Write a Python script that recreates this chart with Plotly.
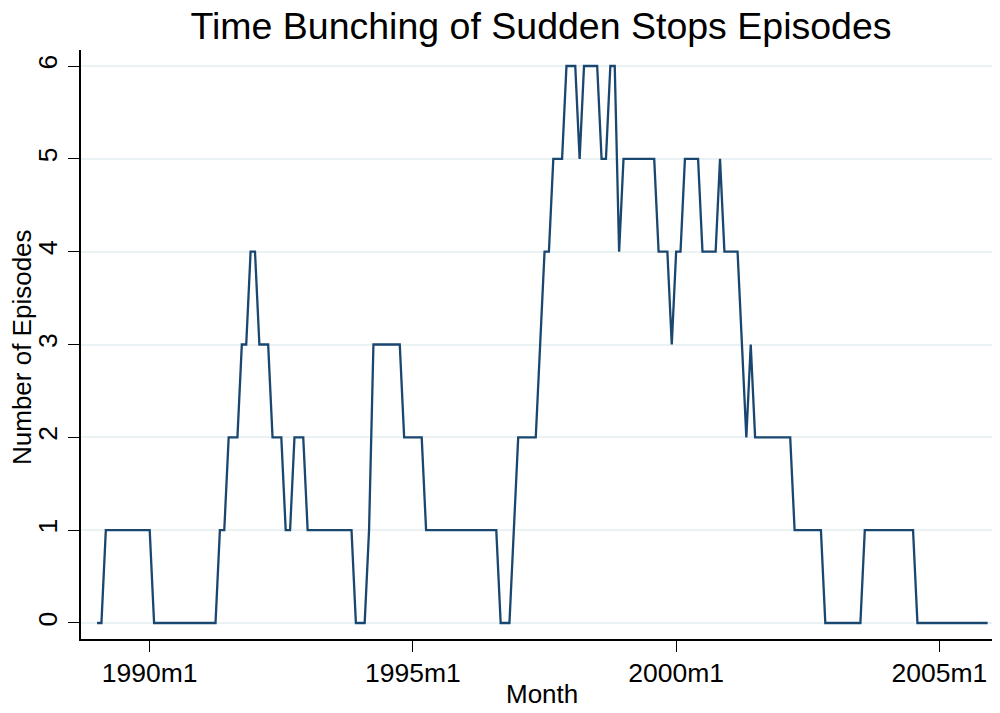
import plotly.graph_objects as go

# Stata monthly dates (%tm): months since 1960m1; 1989m1 = 348
start_month = 348
episodes = (
    [0, 0] + [1] * 11 +                 # 1989m1 .. 1990m1
    [0] * 15 +                          # 1990m2 .. 1991m4
    [1, 1, 2, 2, 2, 3, 3, 4, 4, 3, 3, 3, 2, 2, 2, 1, 1, 2, 2, 2] +
    [1] * 11 +
    [0, 0, 0, 1] +
    [3] * 7 +
    [2] * 5 +
    [1] * 17 +
    [0, 0, 0, 1] +
    [2] * 5 +
    [3, 4, 4, 5, 5, 5, 6, 6, 6, 5, 6, 6, 6, 6, 5, 5, 6, 6, 4] +
    [5] * 8 +
    [4, 4, 4, 3, 4, 4, 5, 5, 5, 5, 4, 4, 4, 4, 5, 4, 4, 4, 4, 3, 2, 3] +
    [2] * 9 +
    [1] * 7 +
    [0] * 9 +
    [1] * 12 +
    [0] * 17
)
months = [start_month + i for i in range(len(episodes))]

tick_vals = [360, 420, 480, 540]
tick_text = ["1990m1", "1995m1", "2000m1", "2005m1"]
y_ticks = [0, 1, 2, 3, 4, 5, 6]

# page body has an 8px margin: figure coordinates = screen coordinates - 8
OFF = 8
W, H = 1000 - OFF, 713 - OFF
ML, MR, MT = 81 - OFF, 0, 50 - OFF
MB = H - (639 - OFF)
pw, ph = W - ML - MR, H - MT - MB


def to_plot_paper(sx, sy):
    """screen pixel -> plot-area paper coords"""
    fx, fy = sx - OFF, sy - OFF
    return (fx - ML) / pw, 1 - (fy - MT) / ph


fig = go.Figure()
fig.add_trace(go.Scatter(
    x=months, y=episodes, mode="lines",
    line=dict(color="#1A476F", width=2.3),
    showlegend=False,
))

font = "Liberation Sans, Arial, sans-serif"
mx, my = to_plot_paper(542, 694)
yx, yy = to_plot_paper(22, 347)
fig.update_layout(
    width=W, height=H,
    paper_bgcolor="white", plot_bgcolor="white",
    margin=dict(l=ML, r=MR, t=MT, b=MB, autoexpand=False),
    title=dict(text="Time Bunching of Sudden Stops Episodes",
               x=(541 - OFF) / W, xanchor="center", y=1 - (26 - OFF) / H, yanchor="middle",
               font=dict(family=font, size=37.5, color="black")),
    font=dict(family=font, color="black"),
    annotations=[
        dict(text="Month", x=mx, y=my, xref="paper", yref="paper",
             xanchor="center", yanchor="middle", showarrow=False,
             font=dict(family=font, size=26, color="black")),
        dict(text="Number of Episodes", x=yx, y=yy, xref="paper", yref="paper",
             xanchor="center", yanchor="middle", showarrow=False, textangle=-90,
             font=dict(family=font, size=26, color="black")),
    ],
)
fig.update_xaxes(
    range=[344.34, 553.82], automargin=False,
    tickmode="array", tickvals=tick_vals, ticktext=tick_text,
    ticks="outside", ticklen=11, tickwidth=1.2, tickcolor="black",
    tickfont=dict(family=font, size=26.5, color="black"),
    ticklabelstandoff=-2,
    showline=True, linecolor="black", linewidth=1.5,
    showgrid=False, zeroline=False,
)
fig.update_yaxes(
    range=[-0.1725, 6.1725], automargin=False,
    tickmode="array", tickvals=y_ticks,
    ticks="outside", ticklen=11, tickwidth=1.2, tickcolor="black",
    tickangle=-90,
    tickfont=dict(family=font, size=26.5, color="black"),
    ticklabelstandoff=1,
    showline=True, linecolor="black", linewidth=1.5,
    showgrid=True, gridcolor="#EAF2F3", gridwidth=2,
    zeroline=False,
)

fig.write_html("out.html")
